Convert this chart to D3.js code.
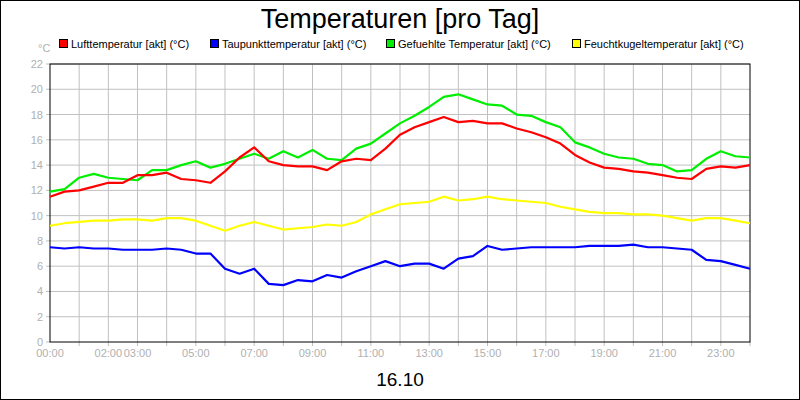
<!DOCTYPE html>
<html><head><meta charset="utf-8">
<script src="https://cdn.jsdelivr.net/npm/d3@7"></script>
<style>body{margin:0;background:#fff}svg{display:block}</style>
</head><body>
<script>
const hours = d3.range(0, 24.01, 0.5);
const luft = [11.5,11.9,12.0,12.3,12.6,12.6,13.2,13.2,13.4,12.9,12.8,12.6,13.5,14.6,15.4,14.3,14.0,13.9,13.9,13.6,14.3,14.5,14.4,15.3,16.4,17.0,17.4,17.8,17.4,17.5,17.3,17.3,16.9,16.6,16.2,15.7,14.8,14.2,13.8,13.7,13.5,13.4,13.2,13.0,12.9,13.7,13.9,13.8,14.0];
const taupunkt = [7.5,7.4,7.5,7.4,7.4,7.3,7.3,7.3,7.4,7.3,7.0,7.0,5.8,5.4,5.8,4.6,4.5,4.9,4.8,5.3,5.1,5.6,6.0,6.4,6.0,6.2,6.2,5.8,6.6,6.8,7.6,7.3,7.4,7.5,7.5,7.5,7.5,7.6,7.6,7.6,7.7,7.5,7.5,7.4,7.3,6.5,6.4,6.1,5.8];
const gefuehlt = [11.9,12.1,13.0,13.3,13.0,12.9,12.8,13.6,13.6,14.0,14.3,13.8,14.1,14.5,14.9,14.5,15.1,14.6,15.2,14.5,14.4,15.3,15.7,16.5,17.3,17.9,18.6,19.4,19.6,19.2,18.8,18.7,18.0,17.9,17.4,17.0,15.8,15.4,14.9,14.6,14.5,14.1,14.0,13.5,13.6,14.5,15.1,14.7,14.6];
const feucht = [9.2,9.4,9.5,9.6,9.6,9.7,9.7,9.6,9.8,9.8,9.6,9.2,8.8,9.2,9.5,9.2,8.9,9.0,9.1,9.3,9.2,9.5,10.1,10.5,10.9,11.0,11.1,11.5,11.2,11.3,11.5,11.3,11.2,11.1,11.0,10.7,10.5,10.3,10.2,10.2,10.1,10.1,10.0,9.8,9.6,9.8,9.8,9.6,9.4];
const seriesNames = ["Lufttemperatur [akt] (°C)","Taupunkttemperatur [akt] (°C)","Gefuehlte Temperatur [akt] (°C)","Feuchtkugeltemperatur [akt] (°C)"];
const seriesColors = ["#ff0000","#0000ff","#00ee00","#ffff00"];
const seriesData = [luft, taupunkt, gefuehlt, feucht];
const tickHours = [0,2,3,5,7,9,11,13,15,17,19,21,23];
const yTicks = d3.range(0, 23, 2);

const W=800,H=400;
const svg=d3.select("body").append("svg").attr("width",W).attr("height",H).style("font-family","Liberation Sans, Arial, sans-serif");
svg.append("rect").attr("x",0.5).attr("y",0.5).attr("width",W-1).attr("height",H-1).attr("fill","#fff").attr("stroke","#000");
const x=d3.scaleLinear().domain([0,24]).range([50,750]);
const y=d3.scaleLinear().domain([0,22]).range([342,64]);
const g=svg.append("g");
// grid
g.selectAll(".vg").data(d3.range(1,24)).join("line").attr("x1",d=>x(d)).attr("x2",d=>x(d)).attr("y1",64).attr("y2",346).attr("stroke","#c0c0c0");
g.selectAll(".hg").data(yTicks.slice(1)).join("line").attr("x1",46).attr("x2",750).attr("y1",d=>y(d)).attr("y2",d=>y(d)).attr("stroke","#c0c0c0");
g.append("line").attr("x1",750).attr("x2",750).attr("y1",342).attr("y2",346).attr("stroke","#c0c0c0");
g.append("line").attr("x1",46).attr("x2",50).attr("y1",342).attr("y2",342).attr("stroke","#c0c0c0");
// frame
g.append("rect").attr("x",50).attr("y",64).attr("width",700).attr("height",278).attr("fill","none").attr("stroke","#000");
// axes labels
svg.selectAll(".yl").data(yTicks).join("text").attr("x",43).attr("y",d=>y(d)+4).attr("text-anchor","end").attr("font-size",11).attr("fill","#b0b0b0").text(d=>d);
svg.selectAll(".xl").data(tickHours).join("text").attr("x",d=>x(d)).attr("y",357).attr("text-anchor","middle").attr("font-size",11).attr("fill","#b0b0b0").text(d=>String(d).padStart(2,"0")+":00");
svg.append("text").attr("x",38).attr("y",52).attr("font-size",11).attr("fill","#b0b0b0").text("°C");
// lines
const line=d3.line().x((d,i)=>x(hours[i])).y(d=>y(d));
[2,0,3,1].forEach(k=>{
  g.append("path").datum(seriesData[k]).attr("d",line).attr("fill","none").attr("stroke",seriesColors[k]).attr("stroke-width",2.2).attr("stroke-linejoin","round");
});
// title
svg.append("text").attr("x",400).attr("y",28).attr("text-anchor","middle").attr("font-size",27).attr("fill","#000").text("Temperaturen [pro Tag]");
svg.append("text").attr("x",400).attr("y",386).attr("text-anchor","middle").attr("font-size",19).attr("fill","#000").text("16.10");
// legend
const legX=[59,210,386,572];
seriesNames.forEach((n,i)=>{
  svg.append("rect").attr("x",legX[i]+0.5).attr("y",39.5).attr("width",8).attr("height",8).attr("fill",seriesColors[i]).attr("stroke","#000");
  svg.append("text").attr("x",legX[i]+12).attr("y",48).attr("font-size",11).attr("fill","#000").text(n);
});
</script>
</body></html>
